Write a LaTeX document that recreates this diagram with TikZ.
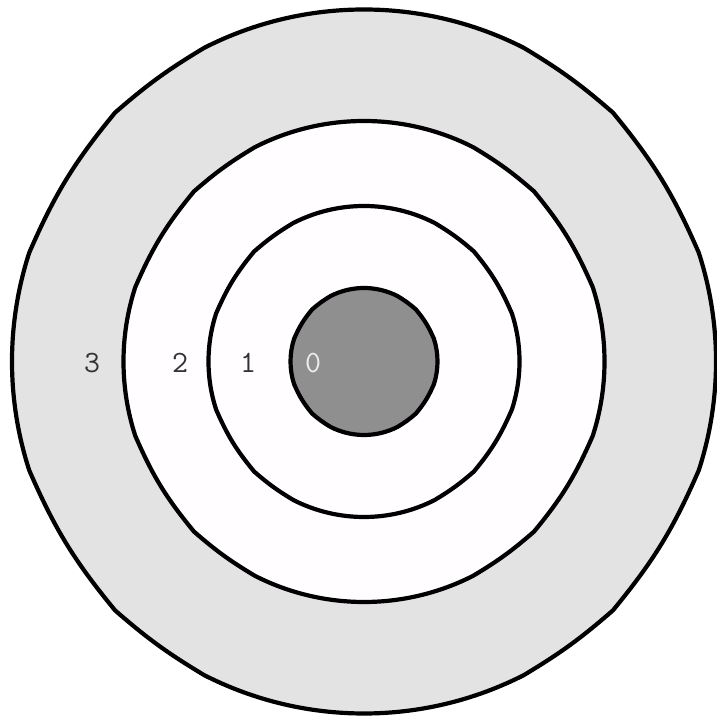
\documentclass[tikz,border=0pt]{standalone}
\usepackage{fontspec}
\definecolor{outerfill}{HTML}{E3E3E3}
\definecolor{midfill}{HTML}{FFFDFF}
\definecolor{corefill}{HTML}{8F8F8F}
\definecolor{labelgray}{HTML}{333333}
\newcommand\ringpath[1]{(-18:#1) arc[start angle=-18,end angle=18,radius=#1] to[bend right=8] (45:#1) to[bend right=5] (63:#1) arc[start angle=63,end angle=117,radius=#1] to[bend right=5] (135:#1) to[bend right=8] (162:#1) arc[start angle=162,end angle=198,radius=#1] to[bend right=8] (225:#1) to[bend right=5] (243:#1) arc[start angle=243,end angle=297,radius=#1] to[bend right=5] (315:#1) to[bend right=8] (342:#1) -- cycle}
\tikzset{
  ring/.style={draw=black, line width=4.2pt, line join=round},
  lbl/.style={font=\ttfamily\fontsize{31}{31}\selectfont, text=labelgray, inner sep=0pt, anchor=center}
}
\begin{document}
\begin{tikzpicture}[x=1pt,y=1pt]
\useasboundingbox[fill=white] (0,0) rectangle (716,719);
\begin{scope}[shift={(364,357.5)}]
\draw[ring, fill=outerfill] \ringpath{352pt};
\draw[ring, fill=midfill] \ringpath{240.5pt};
\draw[ring, fill=midfill] \ringpath{155.5pt};
\draw[ring, fill=corefill] \ringpath{73.5pt};
\end{scope}
\node[lbl] (l3) at (92,356) {\vphantom{0}3};
\node[lbl] (l2) at (180,356) {\vphantom{0}2};
\node[lbl] (l1) at (248,356) {\vphantom{0}1};
\node[lbl, text=white!93!black] (l0) at (313,356) {0};
\end{tikzpicture}
\end{document}
